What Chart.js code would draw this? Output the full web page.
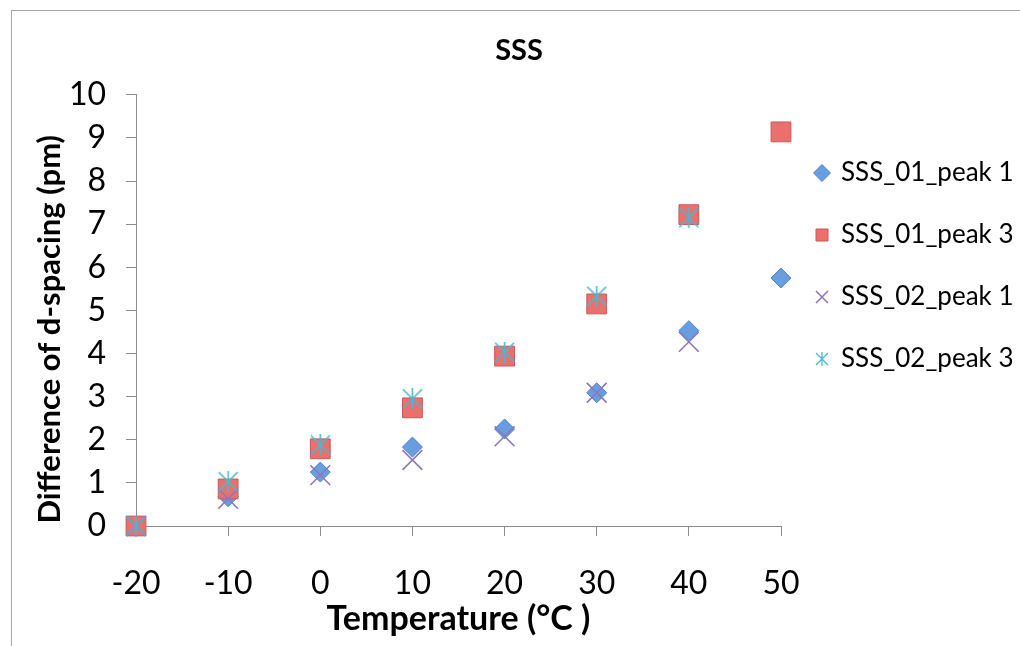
<!DOCTYPE html>
<html><head><meta charset="utf-8">
<script src="https://cdn.jsdelivr.net/npm/chart.js@4"></script>
<style>
html,body{margin:0;padding:0;background:#fff;overflow:hidden;}
#wrap{position:relative;width:1020px;height:646px;overflow:hidden;}
#frame{position:absolute;left:11px;top:10px;width:1100px;height:700px;border:1px solid #a6a6a6;box-sizing:border-box;}
canvas{position:absolute;left:0;top:0;}
</style></head><body>
<div id="wrap"><div id="frame"></div><canvas id="c" width="1020" height="646"></canvas></div>
<script>
// ---- data ----
const temperatures = [-20, -10, 0, 10, 20, 30, 40, 50];
const sss01Peak1 = [0, 0.68, 1.25, 1.83, 2.25, 3.09, 4.53, 5.75];
const sss01Peak3 = [0, 0.86, 1.79, 2.74, 3.94, 5.15, 7.22, 9.14];
const sss02Peak1 = [0, 0.63, 1.18, 1.53, 2.08, 3.09, 4.27];
const sss02Peak3 = [0, 1.03, 1.88, 2.95, 4.03, 5.33, 7.15];
const seriesNames = ['SSS_01_peak 1', 'SSS_01_peak 3', 'SSS_02_peak 1', 'SSS_02_peak 3'];
const xTickValues = [-20, -10, 0, 10, 20, 30, 40, 50];
const yTickValues = [0, 1, 2, 3, 4, 5, 6, 7, 8, 9, 10];
const chartTitle = 'SSS';
const xTitle = 'Temperature (°C )';
const yTitle = 'Difference of d-spacing (pm)';

function pts(vals) { return vals.map((v, i) => ({ x: temperatures[i], y: v })); }

function asterisk(size, color, lw) {
  const c = document.createElement('canvas');
  c.width = size; c.height = size;
  const g = c.getContext('2d');
  g.strokeStyle = color; g.lineWidth = lw;
  const m = 1, s = size - 1;
  g.beginPath();
  g.moveTo(m, m); g.lineTo(s, s);
  g.moveTo(s, m); g.lineTo(m, s);
  g.moveTo(size / 2, 0); g.lineTo(size / 2, size);
  g.stroke();
  return c;
}
const astBig = asterisk(21, '#4BB8D2', 1.6);
const astSmall = asterisk(14, '#4BB8D2', 1.3);

const FONT = 'Lato, Carlito, Calibri, sans-serif';

const layoutFix = {
  id: 'layoutFix',
  afterLayout(chart) {
    const t = chart.titleBlock;
    if (t) { t.left = 0; t.right = 1038; t.width = 1038; }
    const l = chart.legend;
    if (l) {
      const w = l.width, h = l.height;
      l.left = 816 - l.options.labels.padding;
      l.right = l.left + w;
      l.top = 124;
      l.bottom = l.top + h;
    }
  }
};

new Chart(document.getElementById('c'), {
  type: 'scatter',
  data: {
    datasets: [
      { label: seriesNames[0], data: pts(sss01Peak1), pointStyle: 'rectRot', pointRadius: 10, pointHoverRadius: 10,
        backgroundColor: '#669EE0', borderColor: '#4F83C4', borderWidth: 1, order: 3, clip: false },
      { label: seriesNames[1], data: pts(sss01Peak3), pointStyle: 'rect', pointRadius: 14, pointHoverRadius: 14,
        backgroundColor: '#EA706E', borderColor: '#C9585A', borderWidth: 1, order: 2, clip: false },
      { label: seriesNames[2], data: pts(sss02Peak1), pointStyle: 'crossRot', pointRadius: 14, pointHoverRadius: 14,
        backgroundColor: '#8F77BD', borderColor: '#8F77BD', borderWidth: 1.6, order: 1, clip: false },
      { label: seriesNames[3], data: pts(sss02Peak3), pointStyle: astBig, pointRadius: 10,
        backgroundColor: '#4BB8D2', borderColor: '#4BB8D2', borderWidth: 1.6, order: 0, clip: false }
    ]
  },
  options: {
    responsive: false,
    animation: false,
    devicePixelRatio: 1,
    layout: { padding: { left: 0, right: 239, top: 0, bottom: 0 } },
    plugins: {
      title: {
        display: true, text: chartTitle, color: '#000',
        font: { family: FONT, size: 29, weight: 'bold' },
        padding: { top: 33, bottom: 27 }
      },
      tooltip: { enabled: false },
      legend: {
        display: true,
        position: 'chartArea',
        align: 'start',
        labels: {
          usePointStyle: true,
          boxWidth: 12, boxHeight: 12,
          padding: 36,
          color: '#000',
          font: { family: FONT, size: 26 },
          sort: (a, b) => a.datasetIndex - b.datasetIndex,
          generateLabels(chart) {
            const items = Chart.defaults.plugins.legend.labels.generateLabels(chart);
            items.forEach(it => { if (it.datasetIndex === 3) it.pointStyle = astSmall; });
            return items;
          }
        }
      }
    },
    scales: {
      x: {
        type: 'linear', min: -20, max: 50,
        afterFit(s) { s.height = 120; },
        afterBuildTicks(s) { s.ticks = xTickValues.map(v => ({ value: v })); },
        ticks: { color: '#000', font: { family: FONT, size: 32 }, padding: 28 },
        grid: { display: true, drawOnChartArea: false, drawTicks: true, tickLength: 10, color: '#8c8c8c' },
        border: { display: true, color: '#8c8c8c', width: 1 },
        title: { display: true, text: xTitle, color: '#000', font: { family: FONT, size: 34, weight: 'bold' }, padding: { top: 0, bottom: 7 } }
      },
      y: {
        type: 'linear', min: 0, max: 10,
        afterFit(s) { s.width = 136; },
        afterBuildTicks(s) { s.ticks = yTickValues.map(v => ({ value: v })); },
        ticks: { color: '#000', font: { family: FONT, size: 32 }, padding: 20 },
        grid: { display: true, drawOnChartArea: false, drawTicks: true, tickLength: 10, color: '#8c8c8c' },
        border: { display: true, color: '#8c8c8c', width: 1 },
        title: { display: true, text: yTitle + '\u00A0\u00A0\u00A0\u00A0\u00A0', color: '#000', font: { family: FONT, size: 31, weight: 'bold' }, padding: { top: 31, bottom: 0 } }
      }
    }
  },
  plugins: [layoutFix]
});
</script>
</body></html>
